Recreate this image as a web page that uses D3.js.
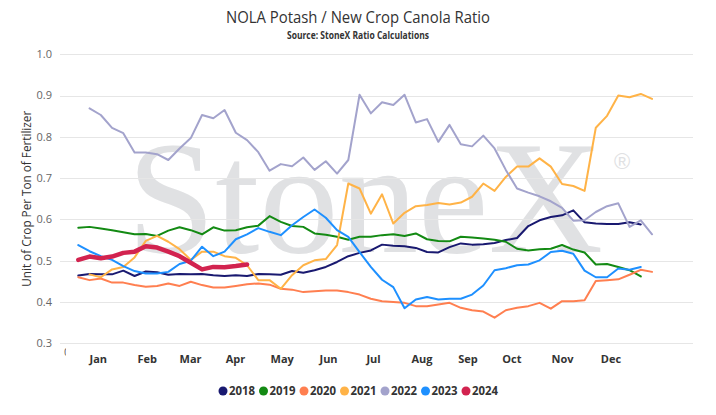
<!DOCTYPE html>
<html>
<head>
<meta charset="utf-8">
<script src="https://cdn.jsdelivr.net/npm/d3@7/dist/d3.min.js"></script>
<style>
  html, body { margin: 0; padding: 0; background: #fff; }
  svg { display: block; }
</style>
</head>
<body>
<svg id="chart" width="716" height="415"></svg>
<script>
// ---- Data (ratio values by week number) ----
const years = ["2018", "2019", "2020", "2021", "2022", "2023", "2024"];
const colors = ["#191970", "#138a13", "#ff7f50", "#ffb347", "#a3a3cc", "#1e90ff", "#d2234f"];

const start2018 = 1;
const s2018 = [0.464,0.468,0.467,0.467,0.476,0.463,0.474,0.472,0.466,0.468,0.467,0.468,0.465,0.463,0.465,0.463,0.468,0.467,0.466,0.475,0.471,0.477,0.485,0.497,0.511,0.519,0.525,0.539,0.536,0.535,0.531,0.521,0.520,0.533,0.542,0.539,0.540,0.543,0.550,0.555,0.584,0.598,0.606,0.610,0.622,0.593,0.590,0.589,0.589,0.593,0.588];
const start2019 = 1;
const s2019 = [0.580,0.582,0.578,0.574,0.569,0.564,0.565,0.560,0.573,0.581,0.574,0.564,0.581,0.573,0.574,0.581,0.585,0.608,0.594,0.584,0.582,0.566,0.563,0.558,0.551,0.558,0.558,0.562,0.564,0.560,0.566,0.552,0.548,0.547,0.558,0.556,0.554,0.551,0.546,0.529,0.525,0.528,0.529,0.538,0.527,0.520,0.491,0.492,0.485,0.477,0.462];
const start2020 = 1;
const s2020 = [0.460,0.453,0.457,0.447,0.447,0.441,0.437,0.439,0.445,0.439,0.449,0.441,0.435,0.435,0.439,0.443,0.445,0.442,0.432,0.430,0.424,0.426,0.428,0.428,0.424,0.418,0.408,0.402,0.400,0.398,0.390,0.390,0.394,0.398,0.386,0.380,0.377,0.362,0.380,0.386,0.390,0.398,0.384,0.402,0.402,0.404,0.451,0.453,0.455,0.466,0.478,0.473];
const start2021 = 2;
const s2021 = [0.467,0.460,0.479,0.485,0.508,0.548,0.560,0.546,0.528,0.502,0.522,0.522,0.511,0.507,0.489,0.453,0.453,0.432,0.465,0.489,0.501,0.504,0.538,0.687,0.675,0.614,0.661,0.590,0.616,0.632,0.635,0.640,0.636,0.641,0.655,0.687,0.669,0.703,0.728,0.728,0.748,0.728,0.686,0.681,0.669,0.822,0.851,0.900,0.896,0.904,0.892];
const start2022 = 2;
const s2022 = [0.869,0.853,0.822,0.809,0.762,0.762,0.758,0.744,0.772,0.797,0.853,0.845,0.865,0.810,0.792,0.763,0.718,0.734,0.729,0.750,0.720,0.741,0.711,0.744,0.902,0.857,0.884,0.877,0.902,0.835,0.843,0.788,0.829,0.782,0.777,0.803,0.772,0.720,0.675,0.665,0.656,0.644,0.628,0.597,0.598,0.618,0.632,0.639,0.582,0.598,0.564];
const start2023 = 1;
const s2023 = [0.538,0.523,0.511,0.502,0.487,0.475,0.469,0.469,0.473,0.492,0.500,0.534,0.511,0.522,0.552,0.564,0.579,0.570,0.562,0.586,0.606,0.624,0.604,0.574,0.558,0.521,0.485,0.454,0.436,0.385,0.406,0.412,0.406,0.408,0.408,0.418,0.440,0.477,0.482,0.489,0.491,0.501,0.521,0.524,0.517,0.476,0.460,0.460,0.481,0.478,0.485];
const start2024 = 1;
const s2024 = [0.502,0.510,0.506,0.510,0.519,0.522,0.535,0.532,0.522,0.511,0.495,0.479,0.485,0.484,0.487,0.491];

const seriesValues = [s2018, s2019, s2020, s2021, s2022, s2023, s2024];
const seriesStart = [start2018, start2019, start2020, start2021, start2022, start2023, start2024];

const monthLabels = ["Jan","Feb","Mar","Apr","May","Jun","Jul","Aug","Sep","Oct","Nov","Dec"];
const monthWeeks = [2.73, 7.08, 10.93, 14.93, 19.08, 23.2, 27.2, 31.5, 35.6, 39.5, 44.0, 48.3];
const yTicks = [0.3, 0.4, 0.5, 0.6, 0.7, 0.8, 0.9, 1.0];

// ---- Layout ----
const W = 716, H = 415;
const plotLeft = 60, plotRight = 693;
const svg = d3.select("#chart");
svg.append("rect").attr("width", W).attr("height", H).attr("fill", "#fff");

const x = d3.scaleLinear().domain([0, 52]).range([67.05, 652.05]);
const y = d3.scaleLinear().domain([0.3, 1.0]).range([343.3, 54.3]);

// watermark
const wm = svg.append("g").attr("class", "watermark");
wm.append("text")
  .attr("x", 127).attr("y", 252)
  .attr("font-family", "Liberation Serif, 'DejaVu Serif', serif")
  .attr("font-size", 162)
  .attr("fill", "#e0e1e3")
  .attr("textLength", 476)
  .attr("lengthAdjust", "spacingAndGlyphs")
  .text("StoneX");
wm.append("text")
  .attr("x", 622).attr("y", 169)
  .attr("text-anchor", "middle")
  .attr("font-family", "Liberation Sans, Arial, sans-serif")
  .attr("font-size", 22)
  .attr("fill", "#e0e1e3")
  .text("®");

// gridlines
svg.append("g").selectAll("line").data(yTicks).join("line")
  .attr("x1", plotLeft).attr("x2", plotRight)
  .attr("y1", d => Math.round(y(d)) + 0.5).attr("y2", d => Math.round(y(d)) + 0.5)
  .attr("stroke", "#e6e6e6").attr("stroke-width", 1);

// y axis labels
svg.append("g").selectAll("text").data(yTicks).join("text")
  .attr("x", 52).attr("y", d => y(d))
  .attr("dy", "0.35em")
  .attr("text-anchor", "end")
  .attr("font-family", "'Open Sans', 'Noto Sans', sans-serif")
  .attr("font-size", 11)
  .attr("fill", "#666")
  .text(d => d.toFixed(1));

// y axis title
svg.append("text")
  .attr("transform", `translate(31,${(y(0.3) + y(1.0)) / 2}) rotate(-90)`)
  .attr("text-anchor", "middle")
  .attr("font-family", "'Open Sans', 'Noto Sans', sans-serif")
  .attr("font-size", 12)
  .attr("fill", "#333")
  .attr("textLength", 176)
  .attr("lengthAdjust", "spacingAndGlyphs")
  .text("Unit of Crop Per Ton of Fertilizer");

// x axis labels
const xAxis = d3.axisBottom(x).tickValues(monthWeeks).tickSize(0).tickPadding(0)
  .tickFormat((d, i) => monthLabels[i]);
const gx = svg.append("g").attr("transform", "translate(0,355)").call(xAxis);
gx.select(".domain").remove();
gx.selectAll("text")
  .attr("font-family", "'Open Sans', 'Noto Sans', sans-serif")
  .attr("font-weight", "bold")
  .attr("font-size", 11)
  .attr("fill", "#333");

// clipped "0" label at week 0
svg.append("clipPath").attr("id", "zeroClip")
  .append("rect").attr("x", 60).attr("y", 340).attr("width", 6).attr("height", 20);
svg.append("text")
  .attr("clip-path", "url(#zeroClip)")
  .attr("x", x(0)).attr("y", 356)
  .attr("text-anchor", "middle")
  .attr("font-family", "'Open Sans', 'Noto Sans', sans-serif")
  .attr("font-size", 11)
  .attr("fill", "#666")
  .text("0");

// lines
const line = d3.line().x(d => x(d.w)).y(d => y(d.v));
const series = years.map((yr, i) => ({
  year: yr,
  color: colors[i],
  points: seriesValues[i].map((v, j) => ({ w: seriesStart[i] + j, v }))
}));
svg.append("g").selectAll("path").data(series).join("path")
  .attr("d", d => line(d.points))
  .attr("fill", "none")
  .attr("stroke", d => d.color)
  .attr("stroke-width", d => d.year === "2024" ? 4.5 : 2)
  .attr("stroke-linejoin", "round")
  .attr("stroke-linecap", "round");

// title & subtitle
svg.append("text")
  .attr("x", 358).attr("y", 23)
  .attr("text-anchor", "middle")
  .attr("font-family", "'Open Sans', 'Noto Sans', sans-serif")
  .attr("font-size", 16)
  .attr("fill", "#333")
  .attr("textLength", 264)
  .attr("lengthAdjust", "spacingAndGlyphs")
  .text("NOLA Potash / New Crop Canola Ratio");
svg.append("text")
  .attr("x", 358).attr("y", 39)
  .attr("text-anchor", "middle")
  .attr("font-family", "'Open Sans', 'Noto Sans', sans-serif")
  .attr("font-weight", "bold")
  .attr("font-size", 10)
  .attr("fill", "#333")
  .attr("textLength", 142)
  .attr("lengthAdjust", "spacingAndGlyphs")
  .text("Source: StoneX Ratio Calculations");

// legend
const legend = svg.append("g").attr("transform", "translate(219,391)");
const items = legend.selectAll("g").data(series).join("g")
  .attr("transform", (d, i) => `translate(${i * 40.5},0)`);
items.append("circle").attr("cx", 4).attr("cy", 0).attr("r", 4.5).attr("fill", d => d.color);
items.append("text")
  .attr("x", 10).attr("y", 0).attr("dy", "0.35em")
  .attr("font-family", "'Open Sans', 'Noto Sans', sans-serif")
  .attr("font-weight", "bold")
  .attr("font-size", 12)
  .attr("fill", "#333")
  .attr("textLength", 26)
  .attr("lengthAdjust", "spacingAndGlyphs")
  .text(d => d.year);
</script>
</body>
</html>
